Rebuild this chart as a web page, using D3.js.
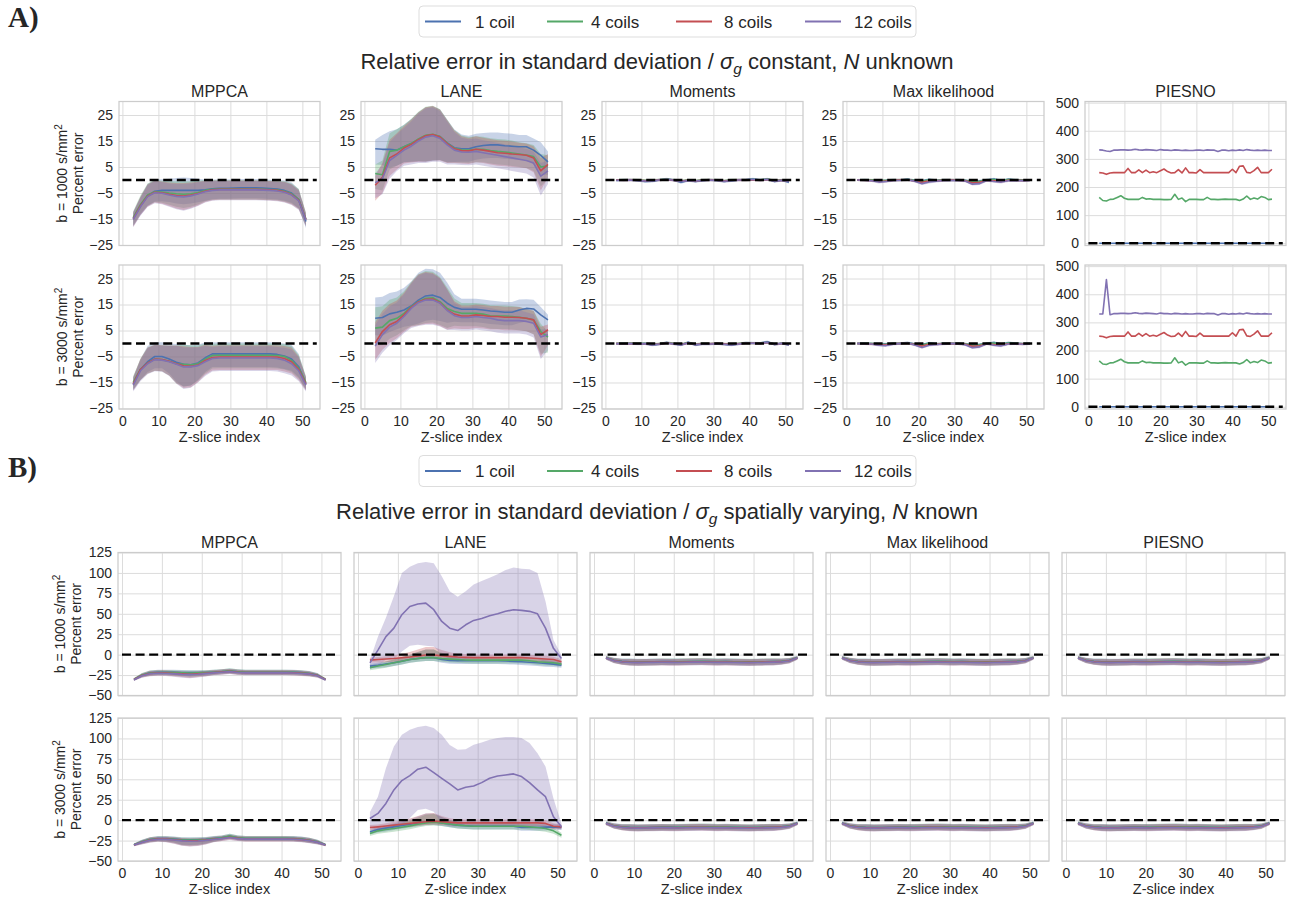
<!DOCTYPE html>
<html><head><meta charset="utf-8">
<script src="https://cdn.jsdelivr.net/npm/d3@7"></script>
<style>
body{margin:0;background:#fff;}
svg text{font-family:"Liberation Sans",Arial,sans-serif;fill:#262626;}
</style>
</head><body>
<svg id="c" width="1301" height="901"></svg>
<script>
// ---------------- DATA ----------------
const coils = ["1 coil","4 coils","8 coils","12 coils"];
const colors = ["#4C72B0","#55A868","#C44E52","#8172B2"];
const methods = ["MPPCA","LANE","Moments","Max likelihood","PIESNO"];
const xTicks = [0,10,20,30,40,50];
const yTicksA = [-25,-15,-5,5,15,25];
const yTicksPiesno = [0,100,200,300,400,500];
const yTicksB = [-50,-25,0,25,50,75,100,125];
const slices = [3,5,7,9,11,13,15,17,19,21,23,25,27,29,31,33,35,37,39,41,43,45,47,49,51];
const slicesAll = [3,4,5,6,7,8,9,10,11,12,13,14,15,16,17,18,19,20,21,22,23,24,25,26,27,28,29,30,31,32,33,34,35,36,37,38,39,40,41,42,43,44,45,46,47,48,49,50,51];

// A) sigma_g constant, N unknown  -- [1 coil, 4 coils, 8 coils, 12 coils]
const aMppca1 = [
 [-14.7,-10,-6,-4.3,-4,-4,-4,-4,-4,-4,-3.8,-3.4,-3.2,-3.2,-3.1,-3,-3,-3,-3.1,-3.3,-3.5,-4,-5,-7.5,-16],
 [-14.5,-9.5,-5.8,-4.5,-4.6,-5,-5.3,-5.5,-5.3,-4.8,-4,-3.6,-3.5,-3.5,-3.5,-3.5,-3.5,-3.5,-3.6,-3.7,-3.8,-4.3,-5.3,-7.5,-15],
 [-15,-10,-6.2,-4.7,-4.9,-5.5,-6,-6.2,-5.8,-5.2,-4.3,-3.8,-3.6,-3.6,-3.6,-3.6,-3.6,-3.6,-3.7,-3.8,-4,-4.5,-5.6,-7.8,-15.2],
 [-15.2,-10.3,-6.4,-4.9,-5.1,-5.8,-6.3,-6.5,-6.1,-5.4,-4.5,-4,-3.8,-3.8,-3.8,-3.8,-3.8,-3.8,-3.9,-4,-4.2,-4.7,-5.8,-8,-15.4]];
const aMppca1Up = [2.5,3.5,4.5,4.5,4.3,4.5,4.8,5,4.8,4.5,4,3.6,3.4,3.4,3.4,3.4,3.4,3.4,3.4,3.4,3.5,3.8,4,4,2.5];
const aMppca1Dn = [3,3.5,4,4,4.2,4.5,5,5.3,5,4.6,4.2,4,4,4,4,4,4,4,4,4,4,4,3.8,3.5,2.5];

const aMppca3 = [
 [-15.5,-10,-7,-5,-5,-6,-7.2,-8,-8.2,-7.5,-5.5,-4,-4,-4,-4,-4,-4,-4,-4,-4,-4.2,-4.8,-6,-9,-15.5],
 [-15,-10,-7.5,-6,-6.2,-6.8,-7.8,-8,-8.2,-7.8,-6,-4.6,-4.5,-4.5,-4.5,-4.5,-4.5,-4.5,-4.5,-4.5,-4.6,-5,-6.5,-9.5,-15],
 [-15.5,-10,-7.5,-6,-6.2,-6.8,-7.8,-8.6,-8.8,-8.3,-6.5,-5.4,-5.2,-5.2,-5.2,-5.2,-5.2,-5.2,-5.2,-5.2,-5.2,-5.8,-7,-10,-15.5],
 [-16,-10.5,-7.8,-6.2,-6.4,-7,-8,-9,-9,-8.5,-7,-5.8,-5.6,-5.6,-5.6,-5.6,-5.6,-5.6,-5.6,-5.6,-5.8,-6.4,-7.8,-10.5,-16]];
const aMppca3Up = [2.5,4,6,5.5,5.5,6,7,7.5,7.5,7,6,4.5,4.5,4.5,4.5,4.5,4.5,4.5,4.5,4.5,4.5,4.8,5.5,5,2.5];
const aMppca3Dn = [2.5,4,4,4.5,4.5,5.5,7.5,8.5,8,6.5,5.5,5,5,5,5,5,5,5,5,5,5,5,4.5,4,2.5];

const aLane1 = [
 [12,11.8,11.8,11.5,12.8,14,15.6,17,17.4,16.7,14.3,12.4,12,12,12.8,13.3,13.5,13.5,13.2,13,12.8,12.8,11.5,9.5,7],
 [2.5,2,11,11.5,12.8,14,15.8,17.2,17.6,16.7,14.2,12.2,11.6,11.5,11.8,11.8,11.3,11,10.8,10.4,10,9.6,9,5,5.5],
 [-2,1,8.5,10,12.3,13.7,15.5,17,17.5,16.5,14,12,11.3,11.2,11.8,11.5,11,10.5,10.3,10,9.8,9.5,8.5,3.5,6],
 [-1,0.5,7.5,9.5,11.5,13,15,16.5,17,16,13.5,11.5,10.8,10.7,11,10.5,10,9.5,9,8.5,8,7.5,6.5,1.5,3.5]];
const aLane1Up = [3.5,5.5,7,8,8.5,9.5,10.5,11,11,10.5,9,7,5.5,5,5,4.8,4.8,4.8,4.8,4.8,4.5,4.5,4.5,5,4];
const aLane1Dn = [6,6,7,6,6,7,8.5,10,10,9,7.5,5.5,5,5,5,5,5,5,5,5,5,5,5.5,7.5,5];

const aLane3 = [
 [9.7,10,11.4,12,12.9,14.4,16.7,18.3,18.6,17.7,15.5,13.9,13.2,13.2,13.2,12.9,12.5,12.3,12,12,12.9,13.5,13.3,11,9.1],
 [5.9,6.3,8.8,9.7,11.6,14.2,16.1,17.4,17.6,16.1,13.5,12.3,11.6,11.6,11.6,11.3,10.7,10.6,10.6,10.4,10.1,9.7,9.1,4.6,2.5],
 [0.2,4.6,7.2,8.5,11,13.9,16,17,17.1,15.7,12.9,11.3,10.6,10.6,11,10.8,10.4,10.4,10.1,10.1,10,9.7,9.1,3.4,5.3],
 [-1,3.4,6.3,7.8,10.4,13.5,15.7,16.7,16.7,15.5,12.7,10.7,10,10,10.4,10,9.7,9.1,8.8,8.8,8.8,8.5,7.8,2.5,3.4]];
const aLane3Up = [8,8,8,8,8.5,9.5,10.5,10.5,10,9.5,8,5,4,4,4,4,4,4,4,4,4,3.5,3.5,3,2];
const aLane3Dn = [6.5,7,7,6.5,6.5,7.5,9,9.5,9.5,9,7.5,5.5,5,5,5,5,5,5,5,5,5,5,5.5,8.5,6];

const aMom1 = [
 [-0.2,0,0,-0.2,-0.6,-0.5,0,0.4,0,-0.9,-0.2,-0.6,-0.2,0,-0.2,-0.6,-0.3,0,0.1,0.4,0,0.4,-0.6,-0.1,-0.9],
 [0,0,0.1,0,-0.2,-0.1,0.1,0.3,0,-0.4,0,-0.3,0,0.1,0,-0.3,0,0.1,0,0.2,0,0.3,-0.2,0,-0.4],
 [0,-0.1,0,-0.1,-0.3,-0.2,0,0.2,-0.1,-0.5,-0.1,-0.4,-0.1,0,-0.1,-0.4,-0.1,0,0,0.1,-0.1,0.2,-0.3,-0.1,-0.5],
 [-0.1,-0.1,0,-0.2,-0.4,-0.3,0,0.2,-0.1,-0.6,-0.2,-0.4,-0.2,0,-0.1,-0.5,-0.2,0,0,0.2,-0.1,0.2,-0.4,-0.1,-0.6]];
const aMom3 = [
 [0,0,0,-0.1,0,-0.6,-0.3,0.4,-0.1,-0.6,0.5,-0.6,-0.2,-0.2,0,-0.3,-0.6,-0.2,0.3,0.2,0.1,0.7,-0.4,0.1,-0.6],
 [0,0,0.1,0,0,-0.3,-0.1,0.3,0,-0.3,0.3,-0.3,0,-0.1,0,-0.2,-0.3,0,0.2,0.1,0.1,0.4,-0.2,0,-0.3],
 [0,-0.1,0,-0.1,-0.1,-0.4,-0.2,0.2,-0.1,-0.4,0.2,-0.4,-0.1,-0.1,0,-0.2,-0.4,-0.1,0.1,0.1,0,0.4,-0.3,0,-0.4],
 [-0.1,-0.1,0,-0.2,-0.1,-0.5,-0.2,0.2,-0.2,-0.5,0.2,-0.4,-0.2,-0.2,-0.1,-0.3,-0.5,-0.2,0.1,0.1,0,0.4,-0.3,0,-0.5]];
const aMl1 = [
 [0,0,-0.1,-0.3,-0.2,0,0,0.3,-0.2,-0.4,0.2,-0.2,0,0,0,-0.2,-0.5,-0.4,0,0.4,-0.3,0.3,0,-0.1,0],
 [0,0,0,-0.2,-0.2,0,0,0.2,-0.2,-0.5,0.1,-0.2,0,0,0,-0.2,-0.6,-0.5,0,0.2,-0.3,0.2,0,-0.1,0],
 [0,-0.1,-0.2,-0.5,-0.4,-0.1,0,0.1,-0.4,-0.9,-0.3,-0.3,-0.1,0,-0.1,-0.3,-1.1,-0.9,-0.1,-0.3,-0.6,-0.1,-0.1,-0.2,-0.1],
 [0,-0.1,-0.3,-0.8,-0.6,-0.2,-0.1,0.1,-0.5,-1.4,-0.8,-0.5,-0.2,-0.1,-0.2,-0.4,-1.6,-1.4,-0.2,-0.6,-0.8,-0.3,-0.2,-0.3,-0.2]];
const aMl3 = [
 [0,0,-0.1,-0.2,-0.2,0,0,0.3,-0.2,-0.5,0.2,-0.2,0,0,0,-0.2,-0.5,-0.4,0,0.4,-0.3,0.3,0,-0.1,0],
 [0,0,0,-0.3,-0.3,0,0,0.2,-0.3,-0.6,0.1,-0.2,0,0,0,-0.2,-0.6,-0.5,0,0.2,-0.3,0.2,0,-0.1,0],
 [0,-0.1,-0.2,-0.5,-0.5,-0.1,0,0.1,-0.4,-1,-0.3,-0.3,-0.1,0,-0.1,-0.3,-1.1,-0.9,-0.1,-0.4,-0.6,-0.1,-0.1,-0.2,-0.1],
 [0,-0.1,-0.2,-0.7,-0.8,-0.3,0,0.2,-0.6,-1.5,-0.7,-0.4,-0.2,0,-0.1,-0.5,-1.6,-1.3,-0.1,-0.7,-0.9,-0.2,-0.1,-0.3,-0.2]];
const aSmallBand = [0.4,0.5,0.5,0.5,0.5,0.5,0.5,0.5,0.5,0.5,0.5,0.5,0.5,0.5,0.5,0.5,0.5,0.5,0.5,0.5,0.5,0.5,0.5,0.5,0.4];

const pBlue = [0,0,0,0,0,0,0,0,0,0,0,0,0,0,0,0,0,0,0,0,0,0,0,0,0,0,0,0,0,0,0,0,0,0,0,0,0,0,0,0,0,0,0,0,0,0,0,0,0];
const pGreen = [163,152,150,156,157,163,169,160,156,156,156,156,163,157,158,156,156,156,155,155,156,174,156,161,148,156,156,156,155,155,163,156,156,155,156,157,156,156,156,152,157,168,156,161,157,166,163,155,157];
const pRed = [251,250,245,250,251,251,251,251,266,251,251,261,251,260,251,254,251,258,264,255,250,251,262,250,268,251,251,250,262,251,251,251,251,251,251,251,251,263,251,274,275,252,250,258,270,251,251,251,263];
const pPurple1 = [332,331,328,326,331,331,332,332,331,332,334,332,331,333,332,331,330,333,331,331,330,332,331,330,331,330,330,331,331,330,332,331,331,326,331,331,329,331,330,332,330,333,331,330,331,330,331,330,330];
const pPurple3 = [330,330,452,327,331,331,332,332,331,332,334,332,331,333,332,331,330,333,331,331,330,332,331,330,331,330,330,331,331,330,332,331,331,326,331,331,329,331,330,332,330,333,331,330,331,330,331,330,330];

// B) sigma_g spatially varying, N known
const bMppca1 = [
 [-30.6,-25.2,-22.3,-21.5,-21.5,-21.5,-21.8,-22,-22,-22,-21.5,-21,-20,-21,-21.5,-21.5,-21.5,-21.5,-21.5,-21.5,-21.5,-22,-23,-25,-30.6],
 [-30.2,-25,-22.5,-21.8,-21.8,-22,-22.3,-22.5,-22.3,-22,-21.5,-20.8,-19.8,-21,-21.5,-21.5,-21.5,-21.5,-21.5,-21.5,-21.7,-22.2,-23.2,-25.2,-30.2],
 [-30.5,-25.5,-23,-22.5,-22.5,-23,-23.5,-24,-23.5,-22.8,-22,-21.3,-20.5,-21.5,-22,-22,-22,-22,-22,-22,-22.2,-22.7,-23.5,-25.5,-30.5],
 [-30.8,-25.8,-23.3,-22.8,-23,-23.5,-24.2,-24.5,-24,-23.2,-22.3,-21.5,-20.8,-21.8,-22.3,-22.3,-22.3,-22.3,-22.3,-22.3,-22.5,-23,-23.8,-25.8,-30.8]];
const bMppcaUp = [1.5,2.5,3,3,3,3,3,3,3,3,3,3,3,3,3,3,3,3,3,3,3,3,3,2.5,1.5];
const bMppca1Dn = [1.5,2.5,3,3,3,3.5,4,4.5,4,3.5,3,3,3,3,3,3,3,3,3,3,3,3,3,2.5,1.5];
const bMppca3 = [
 [-30,-26.6,-23.8,-22.5,-22.5,-23,-24,-24,-24,-23.5,-22.5,-21.7,-19.7,-21.7,-22.5,-22.5,-22.5,-22.5,-22.5,-22.5,-22.5,-23,-24.6,-26.6,-30],
 [-30,-26.4,-23.8,-22.7,-22.7,-23.3,-24.3,-24.5,-24.3,-23.8,-22.8,-21.7,-19.5,-21.5,-22.3,-22.3,-22.3,-22.3,-22.3,-22.3,-22.6,-23.2,-24.6,-26.6,-30],
 [-30.3,-27,-24.3,-23.2,-23.2,-24,-25,-25.4,-25.2,-24.5,-23.4,-22.4,-21,-22.3,-23,-23,-23,-23,-23,-23,-23.2,-23.8,-25,-27,-30.3],
 [-30.5,-27.2,-24.6,-23.5,-23.5,-24.3,-25.4,-25.8,-25.5,-24.8,-23.6,-22.6,-21.3,-22.6,-23.2,-23.2,-23.2,-23.2,-23.2,-23.2,-23.4,-24,-25.2,-27.2,-30.5]];
const bMppca3Dn = [1.5,2.5,3,3,3.5,4.5,6,6.5,6,5,3.5,3,3,3,3,3,3,3,3,3,3,3,3,2.5,1.5];

const bLane1 = [
 [-14,-12.9,-11.5,-10,-8,-6,-4.8,-3.7,-3.7,-6,-7,-7.5,-7.5,-7.5,-7.5,-7.5,-7.5,-7.8,-8.2,-8.7,-9.3,-10,-10.8,-11.6,-13],
 [-16.1,-14,-12,-10,-8,-6,-4.8,-3.7,-3.7,-4.8,-5.5,-6,-6.5,-6.7,-6.7,-6.7,-6.7,-6.7,-6.7,-6.7,-7.5,-8.7,-9.3,-10,-11.6],
 [-6.7,-6,-5.4,-4.8,-3.8,-2.9,-1.7,-0.5,-0.5,-1.3,-2.1,-2.9,-3.3,-3.7,-3.7,-3.7,-3.7,-3.7,-3.7,-3.7,-4.2,-4.8,-5.4,-6,-8.7],
 [-10,5.6,22,32.4,48.9,59,62,63,55,40.6,32.4,29.5,36.5,41.9,44.3,47.6,50,53,55,54.2,53,50,32.4,7.7,-4.6]];
const bLane3 = [
 [-14.3,-11.5,-9.8,-8.2,-6.5,-5,-3.5,-2,-2,-3.3,-4.7,-6.1,-6.8,-7.4,-7.4,-7.4,-7.4,-7.4,-7.4,-9,-9,-9,-8.6,-8.2,-9],
 [-16.4,-13.1,-11.5,-10.2,-8.6,-7,-5,-3.3,-2.5,-3.3,-4.7,-6.1,-6.8,-7.4,-7.4,-7.4,-7.4,-7.4,-7.4,-7.4,-8.2,-9,-10.2,-13.1,-18.4],
 [-9,-8.2,-7.2,-6.1,-5,-4,-3,-2,-1.2,-2,-2.7,-3.3,-3.3,-3.3,-3.3,-3.3,-3.3,-3.3,-3.3,-3.3,-3.3,-3.3,-4,-7.4,-8.2],
 [2,8.2,20.5,37,48.4,54.5,62.3,64.8,58.2,51.2,44.3,37,40.2,41.8,45.9,51.2,54.1,55.3,56.6,53.3,45.9,37,28.7,4.1,-8.2]];
const bLaneUp = [3,3,3.5,4,5,6,8,10,10,7,5,4,4,4,4,4,4,4,4,4,4,4,4,3.5,3];
const bLaneDn = [3,3.5,4,4,4,4,4,4,4,4,4,4,4,4,4,4,4,4,4,4,4,4,4,3.5,3];
const bLanePurpleUp1 = [3,16.4,23,39,51,48.7,49.8,50.5,56.8,55.4,45.3,41.2,41.2,44,45.7,46.4,48.3,50.6,51.5,50.8,51.4,50,32.9,10.3,4];
const bLanePurpleDn1 = [7,20,28,38,45,48,50,52,45,40,38,38,42,45,47,50,52,55,57,58,58,55,42,20,8];
const bLanePurpleUp3 = [8,20.5,43,53,56.1,56.1,51.7,50.8,54.5,53.3,47.7,49,46.7,50.4,49.1,47.2,46.3,46.3,45,47.1,48.4,45,36.9,22.5,4.2];
const bLanePurpleDn3 = [12,22,30,45,55,52,50,51,48,55,52,45,48,50,53,58,62,63,64,62,55,47,38,14,3];

const bFlat = [
 [-3.5,-6.8,-8.2,-8.8,-9,-9,-8.8,-8.6,-8.6,-8.8,-8.7,-8.5,-8.3,-8.5,-8.7,-8.5,-8.8,-9,-9.2,-9,-8.8,-8.6,-8.2,-7,-3.5],
 [-3.8,-7,-8.5,-9,-9.2,-9.2,-9,-8.8,-8.8,-8.8,-8.5,-8.3,-8.2,-8.4,-8.6,-8.6,-8.8,-8.9,-9,-8.9,-8.7,-8.5,-8.2,-7.2,-3.8],
 [-4,-7.2,-8.8,-9.3,-9.5,-9.4,-9.2,-9,-9.2,-9.3,-9,-8.8,-8.7,-9,-9.2,-9.1,-9.3,-9.4,-9.5,-9.3,-9.1,-8.9,-8.6,-7.5,-4],
 [-4.2,-7.5,-9,-9.6,-9.8,-9.7,-9.5,-9.4,-9.5,-9.6,-9.4,-9.2,-9.1,-9.3,-9.5,-9.4,-9.6,-9.8,-9.9,-9.7,-9.5,-9.2,-8.8,-7.8,-4.2]];
const bFlatBand = [2,3,3.5,4,4,4,4,4,4,4,4,4,4,4,4,4,4,4,4,4,4,4,3.5,3,2];

// ---------------- DRAWING ----------------
const svg = d3.select("#c");
svg.append("rect").attr("width",1301).attr("height",901).attr("fill","#fff");
const defs = svg.append("defs");
const fmt = d => d < 0 ? "\u2212" + Math.abs(d) : String(d);
let clipN = 0;

function same(u,d){ return [[u,d],[u,d],[u,d],[u,d]]; }

function panel(o){
  const x = d3.scaleLinear().domain(o.xDom).range([o.left, o.left + o.w]);
  const y = d3.scaleLinear().domain(o.yDom).range([o.top + o.h, o.top]);
  const g = svg.append("g");
  const ya = d3.axisLeft(y).tickValues(o.yTicks).tickSize(-o.w).tickPadding(6)
     .tickFormat(o.yLabels ? fmt : () => "");
  const gy = g.append("g").attr("transform", `translate(${o.left},0)`).call(ya);
  const xa = d3.axisBottom(x).tickValues(xTicks).tickSize(-o.h).tickPadding(7)
     .tickFormat(o.xLabels ? d3.format("d") : () => "");
  const gx = g.append("g").attr("transform", `translate(0,${o.top + o.h})`).call(xa);
  [gy, gx].forEach(a => {
    a.select(".domain").remove();
    a.selectAll(".tick line").attr("stroke", "#dcdcdc").attr("stroke-width", 1);
    a.selectAll(".tick text").attr("font-size", 14).attr("fill", "#262626")
      .attr("font-family", "Liberation Sans, Arial, sans-serif");
  });
  const id = "cp" + (clipN++);
  defs.append("clipPath").attr("id", id).append("rect")
    .attr("x", o.left).attr("y", o.top).attr("width", o.w).attr("height", o.h);
  const cg = g.append("g").attr("clip-path", `url(#${id})`);
  const xs = o.xs;
  if (o.bands) {
    o.series.forEach((s, i) => {
      const [up, dn] = o.bands[i];
      const area = d3.area().x((d, j) => x(xs[j])).y0((d, j) => y(d - dn[j])).y1((d, j) => y(d + up[j]));
      cg.append("path").datum(s).attr("d", area).attr("fill", colors[i]).attr("fill-opacity", 0.31);
    });
  }
  o.series.forEach((s, i) => {
    const line = d3.line().x((d, j) => x(xs[j])).y(d => y(d));
    cg.append("path").datum(s).attr("d", line).attr("fill", "none")
      .attr("stroke", colors[i]).attr("stroke-width", 1.6).attr("stroke-linejoin", "round");
  });
  cg.append("line").attr("x1", x(0)).attr("x2", x(54)).attr("y1", y(0)).attr("y2", y(0))
    .attr("stroke", "#000").attr("stroke-width", 2.4).attr("stroke-dasharray", "9,4.6");
  g.append("rect").attr("x", o.left).attr("y", o.top).attr("width", o.w).attr("height", o.h)
    .attr("fill", "none").attr("stroke", "#cccccc").attr("stroke-width", 1.25);
  g.append("text").attr("x", o.left + o.w / 2).attr("y", o.top - 5).attr("text-anchor", "middle")
    .attr("font-size", 16).text(o.title);
  if (o.xLabels) {
    g.append("text").attr("x", o.left + o.w / 2).attr("y", o.top + o.h + 33).attr("text-anchor", "middle")
      .attr("font-size", 14.5).text("Z-slice index");
  }
  if (o.yLab) {
    const cy = o.top + o.h / 2;
    const t1 = g.append("text").attr("transform", `translate(${o.ylx1},${cy}) rotate(-90)`)
      .attr("text-anchor", "middle").attr("font-size", 14);
    t1.append("tspan").text(o.yLab);
    t1.append("tspan").attr("baseline-shift", "super").attr("font-size", 10).text("2");
    g.append("text").attr("transform", `translate(${o.ylx2},${cy}) rotate(-90)`)
      .attr("text-anchor", "middle").attr("font-size", 14).text("Percent error");
  }
}

function legend(cy){
  svg.append("rect").attr("x", 419).attr("y", cy - 15.5).attr("width", 497).attr("height", 31)
    .attr("rx", 4).attr("fill", "#fff").attr("stroke", "#dddddd").attr("stroke-width", 1);
  const lx = [425, 547, 676, 805];
  const tx = [475, 591, 724, 854];
  coils.forEach((c, i) => {
    svg.append("line").attr("x1", lx[i]).attr("x2", lx[i] + 36).attr("y1", cy).attr("y2", cy)
      .attr("stroke", colors[i]).attr("stroke-width", 2);
    svg.append("text").attr("x", tx[i]).attr("y", cy + 6).attr("font-size", 17).text(c);
  });
}

function suptitle(cy, mid, tail){
  const t = svg.append("text").attr("x", 657).attr("y", cy + 7.5).attr("text-anchor", "middle").attr("font-size", 22);
  t.append("tspan").text("Relative error in standard deviation / ");
  t.append("tspan").attr("font-style", "italic").text("\u03C3");
  t.append("tspan").attr("font-style", "italic").attr("font-size", 15.5).attr("baseline-shift", "-4.5").text("g");
  t.append("tspan").text(" " + mid + ", ");
  t.append("tspan").attr("font-style", "italic").text("N");
  t.append("tspan").text(" " + tail);
}

function letter(txt, cy){
  svg.append("text").attr("x", 8).attr("y", cy + 9).attr("font-size", 29).attr("font-weight", "bold")
    .style("font-family", "'Liberation Serif','DejaVu Serif',serif").text(txt);
}

// ---- Section A ----
letter("A)", 18);
legend(21.5);
suptitle(61, "constant", "unknown");
const aLefts = [119, 361, 602, 843, 1085];
const aTops = [101.5, 265];
const aRows = [
  { lab: "b = 1000 s/mm", sets: [
    { s: aMppca1, xs: slices, bands: same(aMppca1Up, aMppca1Dn) },
    { s: aLane1, xs: slices, bands: same(aLane1Up, aLane1Dn) },
    { s: aMom1, xs: slices, bands: same(aSmallBand, aSmallBand) },
    { s: aMl1, xs: slices, bands: same(aSmallBand, aSmallBand) },
    { s: [pBlue, pGreen, pRed, pPurple1], xs: slicesAll, bands: null, piesno: true } ] },
  { lab: "b = 3000 s/mm", sets: [
    { s: aMppca3, xs: slices, bands: same(aMppca3Up, aMppca3Dn) },
    { s: aLane3, xs: slices, bands: same(aLane3Up, aLane3Dn) },
    { s: aMom3, xs: slices, bands: same(aSmallBand, aSmallBand) },
    { s: aMl3, xs: slices, bands: same(aSmallBand, aSmallBand) },
    { s: [pBlue, pGreen, pRed, pPurple3], xs: slicesAll, bands: null, piesno: true } ] }
];
aRows.forEach((row, r) => {
  row.sets.forEach((st, c) => {
    panel({
      left: aLefts[c], top: aTops[r], w: 201, h: 144,
      xDom: [-0.95, 54.9],
      yDom: st.piesno ? [-8, 504] : [-25.2, 30.2],
      yTicks: st.piesno ? yTicksPiesno : yTicksA,
      yLabels: true, xLabels: r === 1,
      title: r === 0 ? methods[c] : "",
      series: st.s, xs: st.xs, bands: st.bands,
      yLab: c === 0 ? row.lab : null, ylx1: 67, ylx2: 83
    });
  });
});

// ---- Section B ----
letter("B)", 468);
legend(471);
suptitle(511, "spatially varying", "known");
const bLefts = [118, 354, 590, 826, 1062];
const bTops = [552.5, 718];
const bRows = [
  { lab: "b = 1000 s/mm", sets: [
    { s: bMppca1, bands: same(bMppcaUp, bMppca1Dn) },
    { s: bLane1, bands: [[bLaneUp, bLaneDn], [bLaneUp, bLaneDn], [bLaneUp, bLaneDn], [bLanePurpleUp1, bLanePurpleDn1]] },
    { s: bFlat, bands: same(bFlatBand, bFlatBand) },
    { s: bFlat, bands: same(bFlatBand, bFlatBand) },
    { s: bFlat, bands: same(bFlatBand, bFlatBand) } ] },
  { lab: "b = 3000 s/mm", sets: [
    { s: bMppca3, bands: same(bMppcaUp, bMppca3Dn) },
    { s: bLane3, bands: [[bLaneUp, bLaneDn], [bLaneUp, bLaneDn], [bLaneUp, bLaneDn], [bLanePurpleUp3, bLanePurpleDn3]] },
    { s: bFlat, bands: same(bFlatBand, bFlatBand) },
    { s: bFlat, bands: same(bFlatBand, bFlatBand) },
    { s: bFlat, bands: same(bFlatBand, bFlatBand) } ] }
];
bRows.forEach((row, r) => {
  row.sets.forEach((st, c) => {
    panel({
      left: bLefts[c], top: bTops[r], w: 223, h: 143,
      xDom: [-1, 54.9], yDom: [-50, 125], yTicks: yTicksB,
      yLabels: c === 0, xLabels: r === 1,
      title: r === 0 ? methods[c] : "",
      series: st.s, xs: slices, bands: st.bands,
      yLab: c === 0 ? row.lab : null, ylx1: 65, ylx2: 81
    });
  });
});
</script>
</body></html>
